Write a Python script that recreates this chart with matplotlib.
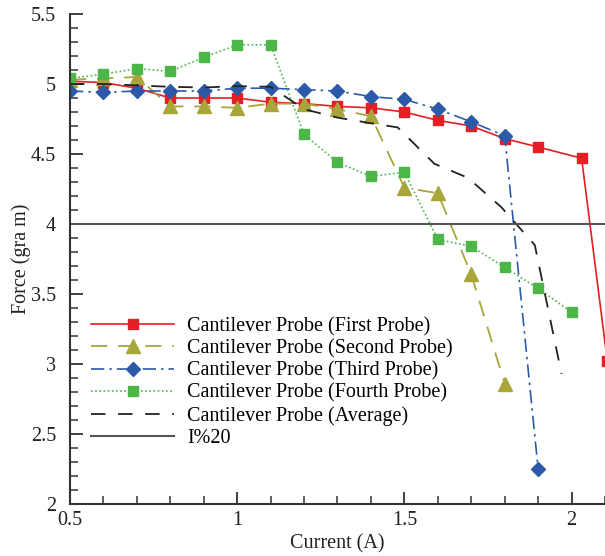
import numpy as np
import matplotlib
matplotlib.use("Agg")
import matplotlib.pyplot as plt
from matplotlib.ticker import MultipleLocator

plt.rcParams['font.family'] = ['Liberation Serif', 'DejaVu Serif']
plt.rcParams['font.size'] = 14.5

# current (A) for each probe series
current = [0.5, 0.6, 0.7, 0.8, 0.9, 1.0, 1.1, 1.2, 1.3, 1.4, 1.5, 1.6, 1.7, 1.8, 1.9]

first_x = current + [2.03, 2.107]
first_y = [5.02, 5.01, 4.97, 4.90, 4.90, 4.90, 4.87, 4.86, 4.84, 4.83, 4.80,
           4.74, 4.70, 4.61, 4.55, 4.47, 3.02]

second_x = current[:14]
second_y = [5.03, 5.04, 5.05, 4.84, 4.84, 4.83, 4.86, 4.86, 4.82, 4.77, 4.26,
            4.22, 3.64, 2.86]

third_x = current
third_y = [4.95, 4.94, 4.95, 4.95, 4.95, 4.97, 4.97, 4.96, 4.95, 4.91, 4.89,
           4.82, 4.73, 4.63, 2.25]

fourth_x = current + [2.0]
fourth_y = [5.04, 5.07, 5.11, 5.09, 5.19, 5.28, 5.28, 4.64, 4.44, 4.34, 4.37,
            3.89, 3.84, 3.69, 3.54, 3.37]

avg_x = [0.5, 0.6, 0.7, 0.8, 0.9, 1.0, 1.1, 1.2, 1.3, 1.4, 1.48, 1.59, 1.69,
         1.79, 1.89, 1.97]
avg_y = [5.0, 5.0, 4.99, 4.98, 4.975, 4.985, 4.98, 4.82, 4.76, 4.72, 4.69,
         4.43, 4.33, 4.12, 3.85, 2.93]

limit_force = 4.0

labels = ['Cantilever Probe (First Probe)', 'Cantilever Probe (Second Probe)',
          'Cantilever Probe (Third Probe)', 'Cantilever Probe (Fourth Probe)',
          'Cantilever Probe (Average)', 'I%20']

fig = plt.figure(figsize=(6.05, 5.56), dpi=100)
ax = fig.add_axes([0.1157, 0.0935, 0.8843, 0.8813])

ax.plot(first_x, first_y, color='#e31e24', lw=1.2, marker='s', ms=7.5,
        label=labels[0])
ax.plot(second_x, second_y, color='#a8a53a', lw=1.3, ls=(0, (9, 6)),
        marker='^', ms=10, label=labels[1])
ax.plot(third_x, third_y, color='#2c5aa8', lw=1.2, ls=(0, (8, 3, 1.5, 3)),
        marker='D', ms=7.5, label=labels[2])
ax.plot(fourth_x, fourth_y, color='#4cb648', lw=1.2, ls=(0, (1, 1.5)),
        marker='s', ms=6.5, label=labels[3])
ax.plot(avg_x, avg_y, color='#222222', lw=1.3, ls=(0, (8, 7)), label=labels[4])
ax.axhline(limit_force, color='#555555', lw=1.5, label=labels[5])

ax.set_xlim(0.5, 2.1)
ax.set_ylim(2, 5.5)
ax.xaxis.set_major_locator(MultipleLocator(0.5))
ax.xaxis.set_minor_locator(MultipleLocator(0.1))
ax.yaxis.set_major_locator(MultipleLocator(0.5))
ax.yaxis.set_minor_locator(MultipleLocator(0.1))
ax.xaxis.set_major_formatter(lambda v, p: f'{v:g}')
ax.yaxis.set_major_formatter(lambda v, p: f'{v:g}')

for s in ['top', 'right']:
    ax.spines[s].set_visible(False)
for s in ['left', 'bottom']:
    ax.spines[s].set_linewidth(1.5)
    ax.spines[s].set_color('#333333')
ax.tick_params(which='major', direction='in', length=9, width=1.3,
               color='#333333', labelcolor='#222222')
ax.tick_params(which='minor', direction='in', length=5.5, width=1.1,
               color='#333333')
ax.tick_params(axis='y', which='major', pad=10)
ax.tick_params(axis='x', which='major', pad=5)

ax.set_xlabel('Current (A)', labelpad=3, color='#222222')
ax.set_ylabel('Force (gra m)', labelpad=0, color='#222222')

ax.legend(loc='upper left', bbox_to_anchor=(0.04, 0.382), frameon=False,
          handlelength=4.1, handletextpad=0.65, labelspacing=0.15,
          borderpad=0, borderaxespad=0, fontsize=14.5)

plt.savefig('out.png', dpi=100)
